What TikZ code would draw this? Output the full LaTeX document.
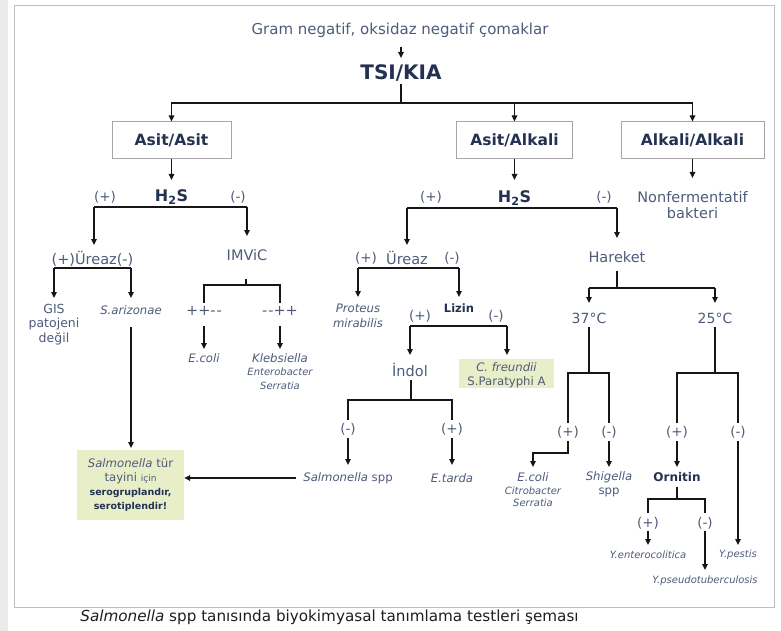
\documentclass[tikz,border=0pt]{standalone}
\usepackage{fontspec}
\setmainfont{DejaVu Sans}
\usetikzlibrary{arrows.meta}
\definecolor{txtc}{RGB}{78,92,122}
\definecolor{hdc}{RGB}{36,50,82}
\definecolor{boxg}{RGB}{232,238,200}
\definecolor{lnc}{RGB}{22,22,22}
\begin{document}
\begin{tikzpicture}[x=1pt,y=-1pt,
  ln/.style={draw=lnc, line width=1.6pt},
  arr/.style={ln, -{Triangle[length=6pt,width=5.5pt]}},
  tx/.style={text=txtc, inner sep=0pt, font=\fontsize{14.5}{17}\selectfont},
  pm/.style={text=txtc, inner sep=0pt, font=\fontsize{13.5}{16}\selectfont},
  sp/.style={text=txtc, inner sep=0pt, font=\fontsize{11.7}{14}\selectfont\itshape},
  spr/.style={text=txtc, inner sep=0pt, font=\fontsize{11.7}{14}\selectfont},
  sm/.style={text=txtc, inner sep=0pt, font=\fontsize{10}{12}\selectfont\itshape},
  hd/.style={text=hdc, inner sep=0pt, font=\fontsize{15.5}{18}\selectfont\bfseries},
  hs/.style={text=hdc, inner sep=0pt, font=\fontsize{11.5}{14}\selectfont\bfseries},
  bx/.style={draw=black!35, line width=1pt, fill=white, text=hdc, minimum height=37pt,
     font=\fontsize{15.5}{18}\selectfont\bfseries},
  gbox/.style={fill=boxg, draw=none, inner sep=0pt}
]
\useasboundingbox (0,0) rectangle (781,631);
\fill[white] (0,0) rectangle (781,631);
\fill[black!8] (0,0) rectangle (8,631);
\draw[black!25, line width=1pt] (14,6) rectangle (774,607);

% ---- top ----
\node[tx, font=\fontsize{15}{18}\selectfont] (title) at (400,30) {Gram negatif, oksidaz negatif çomaklar};
\node[hd, font=\fontsize{20}{24}\selectfont\bfseries] (tsi) at (401,73) {TSI/KIA};
\coordinate (a0) at (401,47); \coordinate (a1) at (401,58);
\draw[arr] (a0) -- (a1);
\coordinate (tsiB) at (401,84); \coordinate (j0) at (401,103);
\draw[ln] (tsiB) -- (j0);

\node[bx, minimum width=119pt] (b1) at (171.5,140.5) {Asit/Asit};
\node[bx, minimum width=116pt] (b2) at (514.5,140.5) {Asit/Alkali};
\node[bx, minimum width=143pt] (b3) at (692.5,140.5) {Alkali/Alkali};
\draw[arr] (j0) -| (b1.north);
\draw[arr] (j0) -| (b3.north);
\draw[arr] (j0 -| b2.north) -- (b2.north);

% ---- left branch ----
\node[hd, font=\fontsize{16}{18}\selectfont\bfseries] (h2a) at (171.5,197) {H\textsubscript{2}S};
\coordinate (h2aIn) at (171.5,180);
\draw[arr] (b1.south) -- (h2aIn);
\node[pm] (h2ap) at (105,197) {(+)};
\node[pm] (h2am) at (238,197) {(-)};
\coordinate (l1) at (94,207); \coordinate (r1) at (247,207);
\draw[ln] (l1) -- (r1);
\coordinate (l1e) at (94,245); \coordinate (r1e) at (247,236);
\draw[arr] (l1) -- (l1e);
\draw[arr] (r1) -- (r1e);

\node[tx] (ur1) at (92.5,259) {(+)Üreaz(-)};
\node[tx] (imv) at (247,255) {IMViC};
\coordinate (u1l) at (54,268); \coordinate (u1r) at (131,268);
\draw[ln] (u1l) -- (u1r);
\coordinate (u1le) at (54,298); \coordinate (u1re) at (131,298);
\draw[arr] (u1l) -- (u1le);
\draw[arr] (u1r) -- (u1re);
\node[spr, font=\fontsize{12.5}{14}\selectfont] (gis1) at (54,309) {GIS};
\node[spr, font=\fontsize{12.5}{14}\selectfont] (gis2) at (54,324) {patojeni};
\node[spr, font=\fontsize{12.5}{14}\selectfont] (gis3) at (54,339) {değil};
\node[sp] (sari) at (131,310) {S.arizonae};
\coordinate (sariB) at (131,327); \coordinate (sboxT) at (131,448);
\draw[arr] (sariB) -- (sboxT);

\node[gbox, minimum width=107pt, minimum height=70pt] (sbox) at (130.5,485) {};
\node[spr] (sb1) at (130.5,463) {\textit{Salmonella} tür};
\node[spr] (sb2) at (130.5,478) {tayini {\fontsize{9}{11}\selectfont için}};
\node[hs, font=\fontsize{9.5}{12}\selectfont\bfseries] (sb3) at (130.5,493) {serogruplandır,};
\node[hs, font=\fontsize{9.5}{12}\selectfont\bfseries] (sb4) at (130.5,507) {serotiplendir!};

% IMViC
\coordinate (imvB) at (246,279); \coordinate (imvJ) at (246,285);
\draw[ln] (imvB) -- (imvJ);
\coordinate (imL) at (204,285); \coordinate (imR) at (280,285);
\coordinate (imLe) at (204,303); \coordinate (imRe) at (280,303);
\draw[ln] (imLe) -- (imL) -- (imR) -- (imRe);
\node[tx] (ppmm) at (204,311) {++-\kern1pt-};
\node[tx] (mmpp) at (280,311) {-\kern1pt-++};
\coordinate (ecA) at (204,326); \coordinate (ecB) at (204,349);
\coordinate (klA) at (280,326); \coordinate (klB) at (280,349);
\draw[arr] (ecA) -- (ecB);
\draw[arr] (klA) -- (klB);
\node[sp] (ecoli1) at (204,358) {E.coli};
\node[sp] (kleb) at (280,358) {Klebsiella};
\node[sm] (ent1) at (280,372) {Enterobacter};
\node[sm] (ser1) at (280,386) {Serratia};

% ---- middle branch ----
\node[hd, font=\fontsize{16}{18}\selectfont\bfseries] (h2b) at (514.5,198) {H\textsubscript{2}S};
\coordinate (h2bIn) at (514.5,180);
\draw[arr] (b2.south) -- (h2bIn);
\node[pm] (h2bp) at (431,197) {(+)};
\node[pm] (h2bm) at (604,197) {(-)};
\coordinate (l2) at (407,208); \coordinate (r2) at (617,208);
\draw[ln] (l2) -- (r2);
\coordinate (l2e) at (407,245); \coordinate (r2e) at (617,238);
\draw[arr] (l2) -- (l2e);
\draw[arr] (r2) -- (r2e);

\node[pm] (u2p) at (366,258) {(+)};
\node[tx] (ur2) at (407,258) {Üreaz};
\node[pm] (u2m) at (452,258) {(-)};
\coordinate (u2l) at (358,268); \coordinate (u2r) at (459,268);
\draw[ln] (u2l) -- (u2r);
\coordinate (u2le) at (358,297); \coordinate (u2re) at (459,297);
\draw[arr] (u2l) -- (u2le);
\draw[arr] (u2r) -- (u2re);
\node[sp] (prot1) at (358,308) {Proteus};
\node[sp] (prot2) at (358,323) {mirabilis};
\node[hs] (liz) at (459,308) {Lizin};
\node[pm] (lzp) at (420,316) {(+)};
\node[pm] (lzm) at (496,316) {(-)};
\coordinate (lzl) at (410,326); \coordinate (lzr) at (507,326);
\draw[ln] (lzl) -- (lzr);
\coordinate (lzle) at (410,355); \coordinate (lzre) at (507,355);
\draw[arr] (lzl) -- (lzle);
\draw[arr] (lzr) -- (lzre);
\node[tx] (indol) at (410,370) {İndol};
\node[gbox, minimum width=95pt, minimum height=29pt] (cfbox) at (506.5,373.5) {};
\node[sp] (cf1) at (506.5,367) {C. freundii};
\node[spr] (cf2) at (506.5,382) {S.Paratyphi A};

\coordinate (inB) at (411,380); \coordinate (inJ) at (411,400);
\draw[ln] (inB) -- (inJ);
\coordinate (inL) at (348,400); \coordinate (inR) at (452,400);
\coordinate (inLe) at (348,420); \coordinate (inRe) at (452,420);
\draw[ln] (inLe) -- (inL) -- (inR) -- (inRe);
\node[pm] (inm) at (348,429) {(-)};
\node[pm] (inp) at (452,429) {(+)};
\coordinate (ssA) at (348,438); \coordinate (ssB) at (348,465);
\coordinate (etA) at (452,438); \coordinate (etB) at (452,465);
\draw[arr] (ssA) -- (ssB);
\draw[arr] (etA) -- (etB);
\node[spr] (sspp) at (348,478) {\textit{Salmonella} spp};
\node[sp] (etar) at (452,478) {E.tarda};
\draw[arr] ([xshift=-7pt]sspp.west) -- (sspp.west -| sbox.east);

% ---- Hareket ----
\node[tx] (har) at (617,257) {Hareket};
\coordinate (haB) at (617,271); \coordinate (haJ) at (617,288);
\draw[ln] (haB) -- (haJ);
\coordinate (haL) at (589,288); \coordinate (haR) at (715,288);
\draw[ln] (haL) -- (haR);
\coordinate (haLe) at (589,303); \coordinate (haRe) at (715,303);
\draw[arr] (haL) -- (haLe);
\draw[arr] (haR) -- (haRe);
\node[tx, font=\fontsize{14}{17}\selectfont] (t37) at (589,318) {37°C};
\node[tx, font=\fontsize{14}{17}\selectfont] (t25) at (715,318) {25°C};

\coordinate (t37B) at (589,327); \coordinate (t37J) at (589,373);
\draw[ln] (t37B) -- (t37J);
\coordinate (c1) at (568,373); \coordinate (c2) at (609,373);
\coordinate (c1e) at (568,423); \coordinate (c2e) at (609,423);
\draw[ln] (c1e) -- (c1) -- (c2) -- (c2e);
\node[pm] (c1p) at (568,432) {(+)};
\node[pm] (c2m) at (609,432) {(-)};
\coordinate (t25B) at (715,327); \coordinate (t25J) at (715,373);
\draw[ln] (t25B) -- (t25J);
\coordinate (d1) at (677,373); \coordinate (d2) at (738,373);
\coordinate (d1e) at (677,423); \coordinate (d2e) at (738,423);
\draw[ln] (d1e) -- (d1) -- (d2) -- (d2e);
\node[pm] (d1p) at (677,432) {(+)};
\node[pm] (d2m) at (738,432) {(-)};

\coordinate (c1A) at (568,441); \coordinate (c1K) at (568,453);
\coordinate (ec2T) at (533,467);
\draw[arr] (c1A) -- (c1K) -| (ec2T);
\node[sp] (ecoli2) at (533,477) {E.coli};
\node[sm] (citro) at (533,491) {Citrobacter};
\node[sm] (ser2) at (533,503) {Serratia};

\coordinate (c2A) at (609,441); \coordinate (c2T) at (609,467);
\draw[arr] (c2A) -- (c2T);
\node[sp] (shig) at (609,477) {Shigella};
\node[spr] (shig2) at (609,492) {spp};

\coordinate (d1A) at (677,441); \coordinate (d1T) at (677,467);
\draw[arr] (d1A) -- (d1T);
\node[hs, font=\fontsize{12}{14}\selectfont\bfseries] (orn) at (677,477) {Ornitin};
\coordinate (oB) at (677,487); \coordinate (oJ) at (677,499);
\draw[ln] (oB) -- (oJ);
\coordinate (o1) at (648,499); \coordinate (o2) at (705,499);
\coordinate (o1e) at (648,513); \coordinate (o2e) at (705,513);
\draw[ln] (o1e) -- (o1) -- (o2) -- (o2e);
\node[pm] (o1p) at (648,523) {(+)};
\node[pm] (o2m) at (705,523) {(-)};
\coordinate (o1A) at (648,531); \coordinate (o1T) at (648,545);
\coordinate (o2A) at (705,531); \coordinate (o2T) at (705,570);
\draw[arr] (o1A) -- (o1T);
\draw[arr] (o2A) -- (o2T);
\node[sm] (yent) at (648,555) {Y.enterocolitica};
\node[sm] (ypse) at (705,581) {Y.pseudotuberculosis};

\coordinate (d2A) at (738,441); \coordinate (d2T) at (738,545);
\draw[arr] (d2A) -- (d2T);
\node[sm] (ypes) at (738,555) {Y.pestis};

% Alkali/Alkali
\coordinate (nfT) at (692.5,178);
\draw[arr] (b3.south) -- (nfT);
\node[tx] (nf1) at (692.5,197) {Nonfermentatif};
\node[tx] (nf2) at (692.5,213) {bakteri};

% caption
\node[inner sep=0pt, text=black!88, font=\fontsize{15.2}{18}\selectfont] (cap) at (329.5,617) {\textit{Salmonella} spp tanısında biyokimyasal tanımlama testleri şeması};
\end{tikzpicture}
\end{document}
